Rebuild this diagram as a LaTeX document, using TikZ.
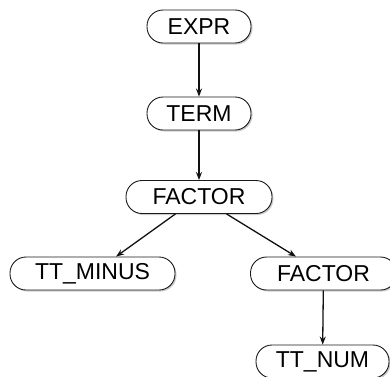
\documentclass[tikz,border=0pt]{standalone}
\usepackage{fontspec}
\setmainfont{Liberation Sans}
\usepackage{xcolor}
\usepackage{tikz}
\usetikzlibrary{arrows.meta,shadows}
\definecolor{edgec}{HTML}{111111}
\definecolor{boxc}{HTML}{1A1A1A}
\tikzset{
  ar/.style={-{Stealth[length=8pt,width=6pt]},line width=1.3pt,edgec},
  nd/.style={rectangle,rounded corners=16pt,draw=boxc,line width=0.9pt,fill=white,minimum height=33pt,inner sep=0pt,
    font=\fontsize{23}{26}\selectfont,
    drop shadow={shadow xshift=1.5pt,shadow yshift=-1.5pt,fill=black!50,opacity=0.4}}
}
\begin{document}
\begin{tikzpicture}[x=1pt,y=-1pt]
\useasboundingbox (0,0) rectangle (390,376);
\node[nd,minimum width=104pt] (expr) at (199,26.5) {EXPR};
\node[nd,minimum width=104pt] (term) at (199,113.5) {TERM};
\node[nd,minimum width=146pt] (fac) at (199,197) {FACTOR};
\node[nd,minimum width=165pt] (minus) at (92.5,273.5) {TT\_MINUS};
\node[nd,minimum width=146pt] (facb) at (323.5,273.5) {FACTOR};
\node[nd,minimum width=133pt] (num) at (322.5,361.5) {TT\_NUM};
\draw[ar] (expr) -- (term);
\draw[ar] (term) -- (fac);
\draw[ar] (fac) -- (minus);
\draw[ar] (fac) -- (facb);
\draw[ar] (facb) -- (num);
\end{tikzpicture}
\end{document}
